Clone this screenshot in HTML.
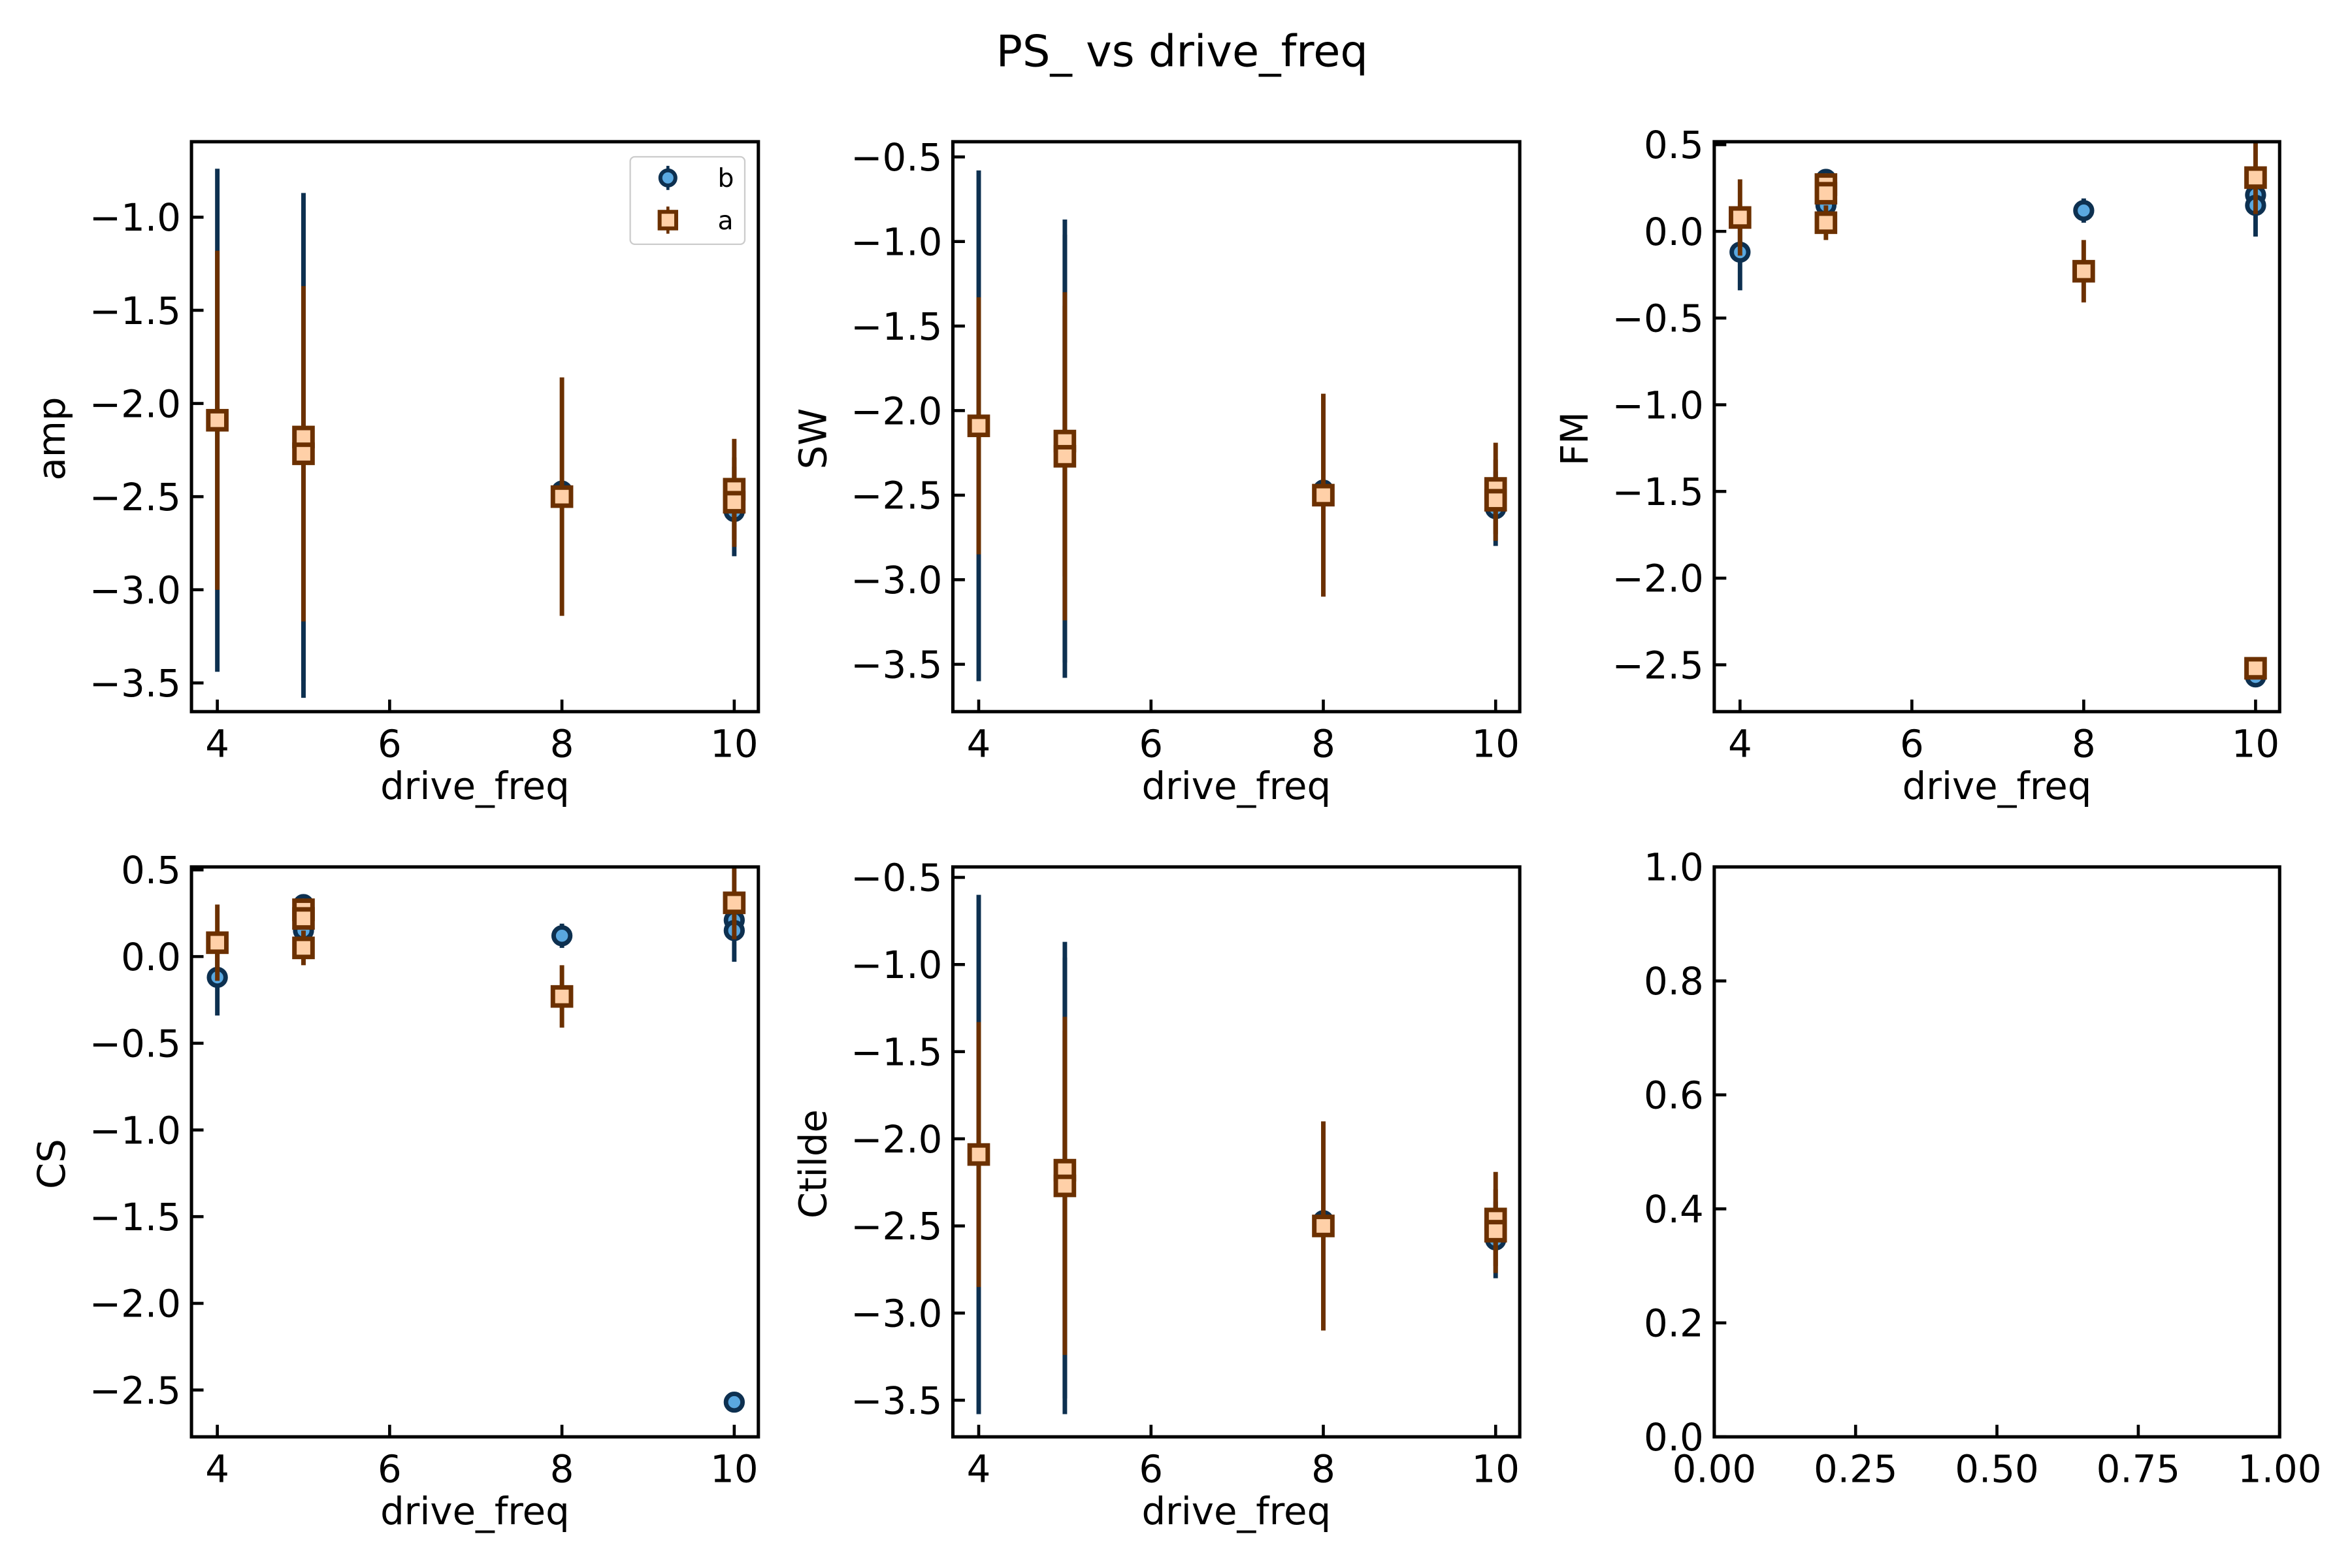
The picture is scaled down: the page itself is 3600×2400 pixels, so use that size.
<!DOCTYPE html>
<html><head><meta charset="utf-8"><style>
html,body{margin:0;padding:0;background:#fff}
svg{display:block}
text{font-family:"DejaVu Sans","Liberation Sans",sans-serif;fill:#000}
</style></head><body>
<svg id="fig" xmlns="http://www.w3.org/2000/svg" width="3600" height="2400" viewBox="0 0 1560 1040">
<rect width="1560" height="1040" fill="#fff"/>
<text x="784" y="44" font-size="29" text-anchor="middle">PS_ vs drive_freq</text>
</svg>
<script>
// data
const xTicks = [4, 6, 8, 10];
const panelNames = ["amp", "SW", "FM", "CS", "Ctilde"];
const ampBX = [4, 5, 5, 8, 10, 10];
const ampBY = [-2.09, -2.18, -2.27, -2.47, -2.50, -2.58];
const ampBE = [1.35, 1.31, 1.31, 0.02, 0.10, 0.24];
const ampAX = [4, 5, 5, 8, 10, 10];
const ampAY = [-2.09, -2.18, -2.27, -2.50, -2.46, -2.53];
const ampAE = [0.91, 0.80, 0.90, 0.64, 0.27, 0.24];
const swBY = [-2.09, -2.18, -2.27, -2.47, -2.50, -2.58];
const swBE = [1.51, 1.31, 1.31, 0.02, 0.10, 0.22];
const swAY = [-2.09, -2.18, -2.27, -2.50, -2.46, -2.53];
const swAE = [0.76, 0.80, 0.97, 0.60, 0.27, 0.24];
const fmBX = [4, 5, 5, 8, 10, 10, 10];
const fmBY = [-0.12, 0.30, 0.15, 0.12, 0.21, 0.15, -2.57];
const fmBE = [0.22, 0.02, 0.05, 0.07, 0.03, 0.18, 0.02];
const fmAX = [4, 5, 5, 5, 8, 10, 10];
const fmAY = [0.08, 0.27, 0.22, 0.05, -0.23, 0.31, -2.52];
const fmAE = [0.22, 0.03, 0.05, 0.10, 0.18, 0.21, 0.05];
const csBX = [4, 5, 5, 8, 10, 10, 10];
const csBY = [-0.12, 0.30, 0.15, 0.12, 0.21, 0.15, -2.57];
const csBE = [0.22, 0.02, 0.05, 0.07, 0.03, 0.18, 0.02];
const csAX = [4, 5, 5, 5, 8, 10];
const csAY = [0.08, 0.27, 0.22, 0.05, -0.23, 0.31];
const csAE = [0.22, 0.03, 0.05, 0.10, 0.18, 0.21];
const ctBY = [-2.09, -2.18, -2.27, -2.47, -2.50, -2.58];
const ctBE = [1.49, 1.31, 1.31, 0.02, 0.10, 0.22];
const ctAY = [-2.09, -2.18, -2.27, -2.50, -2.46, -2.53];
const ctAE = [0.76, 0.80, 0.97, 0.60, 0.27, 0.24];
const ampTicks = [-1.0, -1.5, -2.0, -2.5, -3.0, -3.5];
const fmTicks = [0.5, 0.0, -0.5, -1.0, -1.5, -2.0, -2.5];
const ctTicks = [-0.5, -1.0, -1.5, -2.0, -2.5, -3.0, -3.5];
const emptyTicks = [0, 0.25, 0.5, 0.75, 1.0];
const emptyYTicks = [0, 0.2, 0.4, 0.6, 0.8, 1.0];

const NS = "http://www.w3.org/2000/svg";
const fig = document.getElementById("fig");
function mk(tag, attrs, parent) {
  const e = document.createElementNS(NS, tag);
  for (const k in attrs) e.setAttribute(k, attrs[k]);
  (parent || fig).appendChild(e);
  return e;
}
function fmt(v) { return (v < 0 ? "\u2212" : "") + Math.abs(v).toFixed(1); }

const panels = [
  {name:"amp", L:127,R:503,T:94,B:472, ymin:-3.654, ymax:-0.595, ticks:ampTicks,
   bx:ampBX, by:ampBY, be:ampBE, ax:ampAX, ay:ampAY, ae:ampAE, legend:true},
  {name:"SW", L:632,R:1008,T:94,B:472, ymin:-3.78, ymax:-0.41, ticks:ctTicks,
   bx:ampBX, by:swBY, be:swBE, ax:ampAX, ay:swAY, ae:swAE},
  {name:"FM", L:1137,R:1512,T:94,B:472, ymin:-2.77, ymax:0.517, ticks:fmTicks,
   bx:fmBX, by:fmBY, be:fmBE, ax:fmAX, ay:fmAY, ae:fmAE},
  {name:"CS", L:127,R:503,T:575,B:953, ymin:-2.77, ymax:0.517, ticks:fmTicks,
   bx:csBX, by:csBY, be:csBE, ax:csAX, ay:csAY, ae:csAE},
  {name:"Ctilde", L:632,R:1008,T:575,B:953, ymin:-3.71, ymax:-0.44, ticks:ctTicks,
   bx:ampBX, by:ctBY, be:ctBE, ax:ampAX, ay:ctAY, ae:ctAE}
];
const XMIN = 3.70, XMAX = 10.28;
const BE="#0d3050", BF="#5aa8e0", AE="#6b3000", AF="#ffd0a8";

function axisFrame(g, L, R, T, B) {
  const r = mk("rect", {x:L, y:T, width:R-L, height:B-T, fill:"none", stroke:"#000", "stroke-width":2.2}, g);
  
  
}

panels.forEach(p => {
  const g = mk("g", {});
  
  
  const sx = v => p.L + (v - XMIN) / (XMAX - XMIN) * (p.R - p.L);
  const sy = v => p.B - (v - p.ymin) / (p.ymax - p.ymin) * (p.B - p.T);
  xTicks.forEach(t => {
    mk("line", {x1:sx(t), x2:sx(t), y1:p.B, y2:p.B-8, stroke:"#000", "stroke-width":2}, g);
    const tx = mk("text", {x:sx(t), y:p.B+30, "font-size":25, "text-anchor":"middle"}, g);
    tx.textContent = t;
    
    
  });
  p.ticks.forEach(t => {
    mk("line", {x1:p.L, x2:p.L+8, y1:sy(t), y2:sy(t), stroke:"#000", "stroke-width":2}, g);
    const ty = mk("text", {x:p.L-7, y:sy(t)+9, "font-size":25, "text-anchor":"end"}, g);
    ty.textContent = fmt(t);
    
    
  });
  const xl = mk("text", {x:(p.L+p.R)/2, y:p.B+58, "font-size":25, "text-anchor":"middle"}, g);
  xl.textContent = "drive_freq";
  
  
  const cy = (p.T+p.B)/2;
  const yl = mk("text", {x:p.L-84, y:cy+8, "font-size":25, "text-anchor":"middle", transform:`rotate(-90 ${p.L-84} ${cy+8})`}, g);
  yl.textContent = p.name;
  
  
  p.bx.forEach((x, i) => {
    const el = mk("line", {x1:sx(x), x2:sx(x), y1:sy(p.by[i]-p.be[i]), y2:sy(p.by[i]+p.be[i]), stroke:BE, "stroke-width":3}, g);
    
    
  });
  p.bx.forEach((x, i) => {
    const c = mk("circle", {cx:sx(x), cy:sy(p.by[i]), r:5.5, fill:BF, stroke:BE, "stroke-width":3}, g);
    
    
  });
  p.ax.forEach((x, i) => {
    const el = mk("line", {x1:sx(x), x2:sx(x), y1:sy(p.ay[i]-p.ae[i]), y2:sy(p.ay[i]+p.ae[i]), stroke:AE, "stroke-width":3}, g);
    
    
  });
  p.ax.forEach((x, i) => {
    const s = mk("rect", {x:sx(x)-6, y:sy(p.ay[i])-6, width:12, height:12, fill:AF, stroke:AE, "stroke-width":3}, g);
    
    
  });
  axisFrame(g, p.L, p.R, p.T, p.B);
  if (p.legend) {
    const lg = mk("g", {}, g);
    
    
    mk("rect", {x:418, y:104, width:76, height:58, rx:3, fill:"#fff", stroke:"#ccc", "stroke-width":1}, lg);
    mk("line", {x1:443, x2:443, y1:110, y2:126, stroke:BE, "stroke-width":2}, lg);
    mk("circle", {cx:443, cy:118, r:5, fill:BF, stroke:BE, "stroke-width":2.6}, lg);
    const tb = mk("text", {x:476, y:124, "font-size":17}, lg);
    tb.textContent = "b";
    
    
    mk("line", {x1:443, x2:443, y1:137, y2:155, stroke:AE, "stroke-width":2}, lg);
    mk("rect", {x:437.5, y:140.5, width:11, height:11, fill:AF, stroke:AE, "stroke-width":2.6}, lg);
    const ta = mk("text", {x:476, y:152, "font-size":17}, lg);
    ta.textContent = "a";
    
    
  }
});

(function(){
  const L=1137,R=1512,T=575,B=953;
  const g = mk("g", {});
  
  
  emptyTicks.forEach(t => {
    const x = L + t*(R-L);
    mk("line", {x1:x, x2:x, y1:B, y2:B-8, stroke:"#000", "stroke-width":2}, g);
    const tx = mk("text", {x:x, y:B+30, "font-size":25, "text-anchor":"middle"}, g);
    tx.textContent = t.toFixed(2);
    
    
  });
  emptyYTicks.forEach(t => {
    const y = B - t*(B-T);
    mk("line", {x1:L, x2:L+8, y1:y, y2:y, stroke:"#000", "stroke-width":2}, g);
    const ty = mk("text", {x:L-7, y:y+9, "font-size":25, "text-anchor":"end"}, g);
    ty.textContent = t.toFixed(1);
    
    
  });
  axisFrame(g, L, R, T, B);
})();
</script>
</body></html>
